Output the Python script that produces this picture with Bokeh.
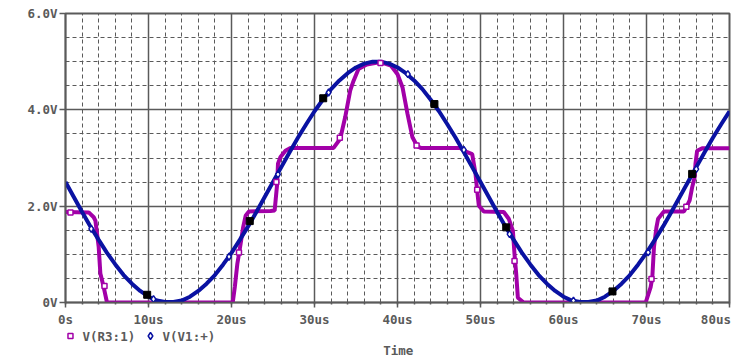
from bokeh.plotting import figure
from bokeh.models import Range1d, FixedTicker
from bokeh.layouts import column
from bokeh.core.properties import value
from bokeh.embed import file_html
from bokeh.resources import INLINE

# ---- data ----
x_ticks = [0, 10, 20, 30, 40, 50, 60, 70, 80]
x_tick_labels = ["0s", "10us", "20us", "30us", "40us", "50us", "60us", "70us", "80us"]
y_ticks = [0, 2, 4, 6]
y_tick_labels = ["0V", "2.0V", "4.0V", "6.0V"]

# V(V1:+) sampled every 1 us
v1_t = list(range(0, 81))
v1_v = [2.50, 2.19, 1.88, 1.58, 1.30, 1.03, 0.79, 0.57, 0.39, 0.24,
        0.12, 0.04, 0.01, 0.01, 0.04, 0.12, 0.24, 0.39, 0.57, 0.79,
        1.03, 1.30, 1.58, 1.88, 2.19, 2.50, 2.81, 3.12, 3.42, 3.70,
        3.97, 4.21, 4.43, 4.61, 4.76, 4.88, 4.96, 5.00, 5.00, 4.96,
        4.88, 4.76, 4.61, 4.43, 4.21, 3.97, 3.70, 3.42, 3.12, 2.81,
        2.50, 2.19, 1.88, 1.58, 1.30, 1.03, 0.79, 0.57, 0.39, 0.24,
        0.12, 0.04, 0.01, 0.01, 0.04, 0.12, 0.24, 0.39, 0.57, 0.79,
        1.03, 1.30, 1.58, 1.88, 2.19, 2.50, 2.81, 3.12, 3.42, 3.70,
        3.97]

# V(R3:1)
r3_t = [0.0, 2.8, 3.4, 3.6, 4.0, 4.2, 4.6, 5.0,
        20.15, 20.4, 20.7, 21.1, 21.4, 21.7, 22.1, 24.7, 25.2, 25.5, 25.6, 25.9, 26.5, 27.1,
        32.3, 33.1, 33.7, 34.3, 34.7, 35.3, 36.3, 37.95, 39.2, 40.0, 40.6, 41.2, 41.8, 42.4, 42.8,
        47.5, 48.4, 49.0, 49.4, 49.6, 49.8, 50.4, 52.8, 53.4, 53.9, 54.1, 54.3, 54.5, 55.2,
        69.9, 70.5, 70.7, 70.9, 71.2, 71.4, 72.1, 74.5, 74.8, 75.2, 75.5, 75.8, 75.9, 76.1, 76.7, 80.0]
r3_v = [1.88, 1.87, 1.77, 1.70, 1.15, 0.60, 0.32, 0.0,
        0.0, 0.32, 0.80, 1.22, 1.56, 1.80, 1.89, 1.90, 1.91, 2.46, 2.88, 3.02, 3.15, 3.21,
        3.21, 3.40, 3.85, 4.40, 4.60, 4.85, 4.94, 4.99, 4.92, 4.74, 4.47, 3.92, 3.43, 3.24, 3.21,
        3.21, 3.12, 3.08, 2.67, 2.32, 2.01, 1.89, 1.88, 1.74, 1.49, 1.00, 0.60, 0.10, 0.0,
        0.0, 0.32, 0.52, 1.15, 1.56, 1.74, 1.89, 1.89, 1.98, 2.12, 2.39, 2.60, 2.88, 3.15, 3.20, 3.20]

# markers
r3_mark_t = [0.6, 4.7, 20.9, 25.4, 33.05, 37.95, 42.3, 49.6, 54.1, 70.6, 74.8]
r3_mark_v = [1.87, 0.34, 1.04, 2.50, 3.42, 4.97, 3.26, 2.34, 0.86, 0.49, 1.99]
v1_mark_t = [3.1, 10.6, 19.7, 25.6, 31.7, 41.25, 48.0, 53.5, 61.2, 70.2, 76.0]
v1_mark_v = [1.53, 0.07, 0.95, 2.66, 4.36, 4.74, 3.17, 1.42, 0.04, 1.04, 2.77]
cur_t = [9.84, 22.2, 31.05, 44.45, 53.1, 65.9, 75.5]
cur_v = [0.16, 1.69, 4.24, 4.12, 1.56, 0.23, 2.67]

legend_names = ["V(R3:1)", "V(V1:+)"]
x_title = "Time"

# ---- style ----
GRAY = "#5a5a5a"
PURPLE = "#a200a8"
BLUE = "#0a12a2"
FONT = "DejaVu Sans Mono"
FS = "12.5px"

p = figure(frame_width=664, frame_height=289,
           x_range=Range1d(0, 80), y_range=Range1d(0, 6),
           output_backend="svg", toolbar_location=None,
           min_border_left=65, min_border_right=9, min_border_top=13, min_border_bottom=27)
p.background_fill_color = "white"
p.border_fill_color = "white"
p.outline_line_color = GRAY
p.outline_line_width = 2

p.xaxis.ticker = FixedTicker(ticks=x_ticks, minor_ticks=list(range(0, 81, 2)))
p.yaxis.ticker = FixedTicker(ticks=y_ticks, minor_ticks=[0.5 * i for i in range(13)])
# the last label gets one no-break space so that, kept inside the canvas, it ends at the frame edge
p.xaxis.major_label_overrides = {t: (l if t != x_ticks[-1] else l + "\u00a0")
                                 for t, l in zip(x_ticks, x_tick_labels)}
p.yaxis.major_label_overrides = {t: l for t, l in zip(y_ticks, y_tick_labels)}

for ax in (p.xaxis, p.yaxis):
    ax.axis_line_color = GRAY
    ax.axis_line_width = 1.5
    ax.major_tick_line_color = GRAY
    ax.major_tick_line_width = 1.5
    ax.major_tick_in = 0
    ax.major_label_text_font = FONT
    ax.major_label_text_font_style = "bold"
    ax.major_label_text_font_size = FS
    ax.major_label_text_color = GRAY
p.xaxis.major_tick_out = 5
p.xaxis.minor_tick_out = 2
p.xaxis.minor_tick_in = 0
p.xaxis.minor_tick_line_color = GRAY
p.xaxis.minor_tick_line_width = 1.5
p.xaxis.major_label_standoff = 4
p.yaxis.major_tick_out = 6
p.yaxis.minor_tick_line_color = None
p.yaxis.major_label_standoff = 2

for g in (p.xgrid, p.ygrid):
    g.grid_line_color = GRAY
    g.grid_line_width = 1.5
    g.minor_grid_line_color = GRAY
    g.minor_grid_line_width = 1
    g.minor_grid_line_dash = "4 3"

p.line(r3_t, r3_v, line_color=PURPLE, line_width=4)
p.line(v1_t, v1_v, line_color=BLUE, line_width=4)
p.scatter(r3_mark_t, r3_mark_v, marker="square", size=5, fill_color="white",
          line_color=PURPLE, line_width=1.5)
p.scatter(v1_mark_t, v1_mark_v, marker="diamond", size=7, fill_color="white",
          line_color=BLUE, line_width=1.5)
p.scatter(cur_t, cur_v, marker="square", size=7, fill_color="black", line_color="black")

# ---- strip under the plot: legend and axis title (y in pixels downward) ----
H = 28
q = figure(frame_width=664, frame_height=H, x_range=p.x_range, y_range=Range1d(H, 0),
           output_backend="svg", toolbar_location=None,
           min_border_left=65, min_border_right=9, min_border_top=0, min_border_bottom=0)
q.axis.visible = False
q.grid.visible = False
q.outline_line_color = None
q.background_fill_color = "white"
q.border_fill_color = "white"

txt = dict(text_baseline="middle", text_font=value(FONT), text_font_style="bold",
           text_font_size=FS, text_color=GRAY)
q.scatter([0.6], [6.5], marker="square", size=5, fill_color="white",
          line_color=PURPLE, line_width=1.5)
q.scatter([10.24], [6.5], marker="diamond", size=7, fill_color="white",
          line_color=BLUE, line_width=1.5)
q.text([2.05, 11.69], [6.5, 6.5], text=legend_names, text_align="left", **txt)
q.text([40.1], [21.3], text=[x_title], text_align="center", **txt)

layout = column(p, q, spacing=0)
open("out.html", "w").write(file_html(layout, INLINE))
